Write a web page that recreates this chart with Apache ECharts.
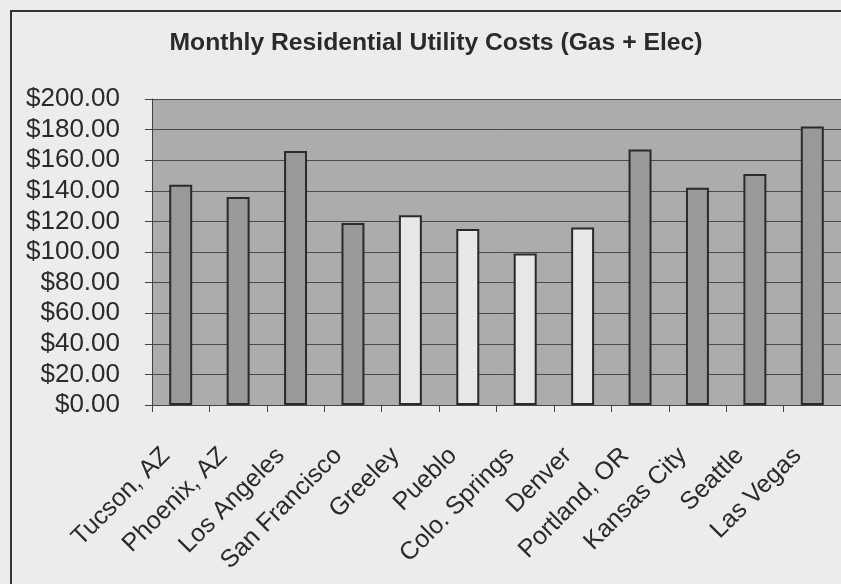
<!DOCTYPE html>
<html>
<head>
<meta charset="utf-8">
<script src="https://cdn.jsdelivr.net/npm/echarts@6/dist/echarts.min.js"></script>
<style>
html,body{margin:0;padding:0;background:#ececea;}
#wrap{position:relative;width:841px;height:584px;overflow:hidden;background:#ececea;}
#frame{position:absolute;left:10px;top:10px;width:900px;height:700px;border:2px solid #333;box-sizing:border-box;}
#chart{position:absolute;left:0;top:0;width:841px;height:584px;}
</style>
</head>
<body>
<div id="wrap"><div id="frame"></div><div id="chart"></div></div>
<script>
var title = 'Monthly Residential Utility Costs (Gas + Elec)';
var cities = ['Tucson, AZ','Phoenix, AZ','Los Angeles','San Francisco','Greeley','Pueblo','Colo. Springs','Denver','Portland, OR','Kansas City','Seattle','Las Vegas'];
var costs = [144, 136, 166, 119, 124, 115, 99, 116, 167, 142, 151, 182];
var lightBars = ['Greeley','Pueblo','Colo. Springs','Denver'];
var yTicks = [0, 20, 40, 60, 80, 100, 120, 140, 160, 180, 200];

var chart = echarts.init(document.getElementById('chart'), null, {renderer:'canvas'});
var data = costs.map(function(v, i){
  var light = lightBars.indexOf(cities[i]) >= 0;
  return {value: v, itemStyle: {color: light ? '#e8e8e8' : '#999999'}};
});
chart.setOption({
  backgroundColor: 'transparent',
  animation: false,
  title: {
    text: title, left: 431, top: 26, textAlign: 'center',
    textStyle: {fontFamily: 'Liberation Sans, Arial', fontSize: 24.7, fontWeight: 'bold', color: '#2a2a2a'}
  },
  grid: {left: 152, top: 99, bottom: 179, right: -3, containLabel: false,
         show: true, backgroundColor: '#acacac', borderWidth: 0},
  xAxis: {
    type: 'category', data: cities,
    axisLine: {show: true, lineStyle: {color: '#444', width: 1}},
    axisTick: {show: true, length: 7, alignWithLabel: false, lineStyle: {color: '#444'}},
    axisLabel: {rotate: 45, margin: 32, interval: 0, padding: [0, 21, 0, 0],
      fontFamily: 'Liberation Sans, Arial', fontSize: 25, color: '#2a2a2a'},
    splitLine: {show: false}
  },
  yAxis: {
    type: 'value', min: yTicks[0], max: yTicks[yTicks.length-1], interval: yTicks[1]-yTicks[0],
    axisLine: {show: true, lineStyle: {color: '#444', width: 1}},
    axisTick: {show: true, length: 7, lineStyle: {color: '#444'}},
    axisLabel: {margin: 32, fontFamily: 'Liberation Sans, Arial', fontSize: 26, color: '#2a2a2a',
      formatter: function(v){ return '$' + v.toFixed(2); }},
    splitLine: {show: true, lineStyle: {color: '#4a4a4a', width: 1}}
  },
  series: [{
    type: 'bar', data: data, barWidth: '40%',
    itemStyle: {borderColor: '#2a2a2a', borderWidth: 2}
  }]
});
</script>
</body>
</html>
